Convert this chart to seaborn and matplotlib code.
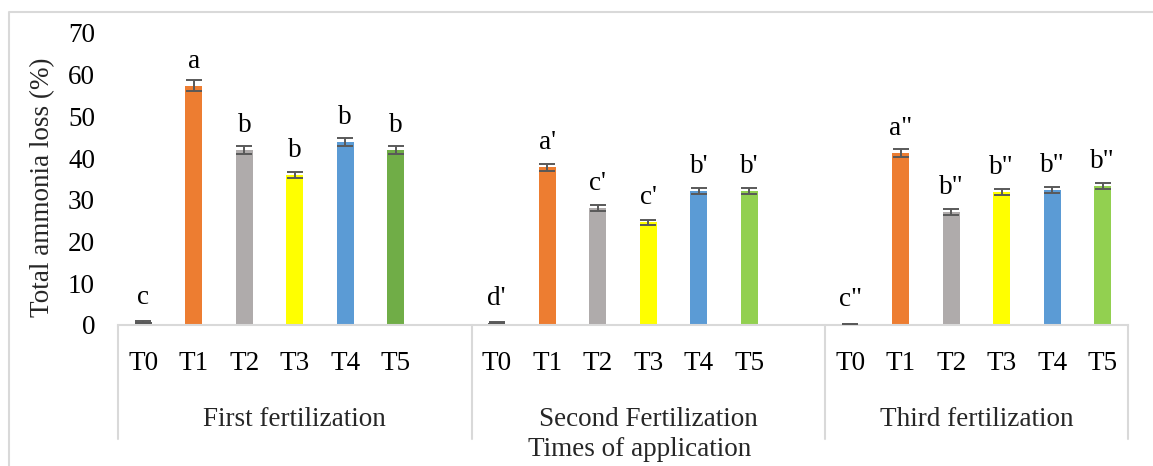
import matplotlib
matplotlib.use("Agg")
import matplotlib.pyplot as plt
from matplotlib.lines import Line2D
import seaborn as sns
import pandas as pd

# ---- data ----
treatments = ["T0", "T1", "T2", "T3", "T4", "T5"]
groups = ["First fertilization", "Second Fertilization", "Third fertilization"]
first_vals = [0.7, 57.4, 42.0, 36.0, 43.8, 42.0]
first_err = [0.15, 1.3, 1.0, 0.75, 1.0, 0.9]
second_vals = [0.5, 37.8, 28.0, 24.6, 32.2, 32.2]
second_err = [0.1, 0.85, 0.7, 0.6, 0.75, 0.75]
third_vals = [0.2, 41.2, 27.1, 31.8, 32.3, 33.3]
third_err = [0.05, 1.0, 0.65, 0.75, 0.75, 0.75]
first_letters = ["c", "a", "b", "b", "b", "b"]
second_letters = ["d'", "a'", "c'", "c'", "b'", "b'"]
third_letters = ['c"', 'a"', 'b"', 'b"', 'b"', 'b"']
colors_first = ["#595959", "#ED7D31", "#AFABAB", "#FFFF00", "#5B9BD5", "#70AD47"]
colors_other = ["#595959", "#ED7D31", "#AFABAB", "#FFFF00", "#5B9BD5", "#92D050"]
y_label = "Total ammonia loss (%)"
x_title = "Times of application"

# ---- build table ----
rows = []
order = []
palette = {}
all_vals = [first_vals, second_vals, third_vals]
all_err = [first_err, second_err, third_err]
all_letters = [first_letters, second_letters, third_letters]
for gi, g in enumerate(groups):
    cols = colors_first if gi == 0 else colors_other
    for ti, t in enumerate(treatments):
        key = f"{gi}-{t}"
        order.append(key)
        palette[key] = cols[ti]
        rows.append(dict(slot=key, value=all_vals[gi][ti], err=all_err[gi][ti],
                         letter=all_letters[gi][ti], tr=t))
    if gi < len(groups) - 1:
        order.append(f"gap{gi}")
df = pd.DataFrame(rows)

sns.set_theme(style="white")
plt.rcParams["font.family"] = ["Liberation Serif", "DejaVu Serif"]
FS = 19.5
GRID = "#D9D9D9"

fig = plt.figure(figsize=(11.53, 4.66), dpi=100)
W, H = 1153, 466
ax = fig.add_axes([118 / W, 1 - 325 / H, (1128 - 118) / W, (325 - 33) / H])

sns.barplot(data=df, x="slot", y="value", hue="slot", order=order, hue_order=list(palette.keys()),
            palette=palette, width=0.33, legend=False, errorbar=None, ax=ax,
            linewidth=0, saturation=1)

pos = {k: i for i, k in enumerate(order)}
xs = [pos[k] for k in df["slot"]]
ax.errorbar(xs, df["value"], yerr=df["err"], fmt="none", ecolor="#595959",
            elinewidth=1.4, capsize=5.5, capthick=1.4, zorder=5)
for x, v, lt in zip(xs, df["value"], df["letter"]):
    ax.annotate(lt, xy=(x, v), xytext=(0, 13), textcoords="offset points",
                ha="center", va="baseline", fontsize=FS, color="black")

ax.set_xlim(-0.5, len(order) - 0.5)
ax.set_ylim(0, 70)
ax.set_yticks(range(0, 71, 10))
ax.tick_params(axis="y", length=0, pad=16.5, labelsize=FS, labelcolor="black")
ax.set_xticks(xs)
ax.set_xticklabels(df["tr"])
ax.tick_params(axis="x", length=0, pad=19, labelsize=FS, labelcolor="black")
ax.set_xlabel("")
ax.set_ylabel("")
for s in ["left", "right", "top"]:
    ax.spines[s].set_visible(False)
ax.spines["bottom"].set_color(GRID)
ax.spines["bottom"].set_linewidth(1.5)
ax.grid(False)

tr = ax.get_xaxis_transform()
ppx = 1 / 292.0
for xb in [-0.5, 6.5, 13.5, len(order) - 0.5]:
    ax.plot([xb, xb], [0, -(439 - 325) * ppx], transform=tr, color=GRID, lw=1.5,
            clip_on=False)
for gi, g in enumerate(groups):
    start = pos[f"{gi}-T0"] - 0.5
    end = (pos[f"gap{gi}"] + 0.5) if gi < len(groups) - 1 else len(order) - 0.5
    ax.text((start + end) / 2, -(420 - 325) * ppx, g, transform=tr, ha="center",
            va="center", fontsize=FS)

fig.text(640 / W, 1 - 450 / H, x_title, ha="center", va="center", fontsize=FS)
fig.text(43 / W, 1 - 187.5 / H, y_label, ha="center", va="center", rotation=90, fontsize=FS)

# outer frame (left and top only)
fig.add_artist(Line2D([9 / W, 9 / W, 1.0], [0, 1 - 12 / H, 1 - 12 / H],
                      transform=fig.transFigure, color=GRID, lw=1.5))

fig.savefig("out.png", dpi=100)
